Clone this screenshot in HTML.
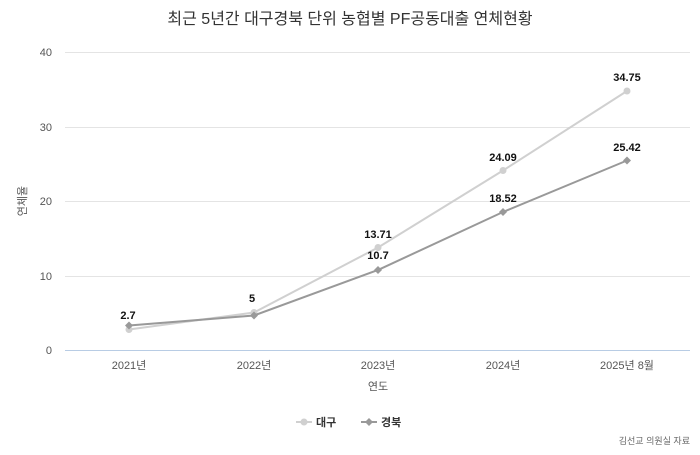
<!DOCTYPE html>
<html><head><meta charset="utf-8"><style>
body{margin:0;background:#fff;}
svg text{font-family:"Liberation Sans","Noto Sans CJK KR",sans-serif;}
</style></head><body>
<svg width="700" height="450" viewBox="0 0 700 450">
<rect width="700" height="450" fill="#fff"/>
<text x="350" y="24" text-anchor="middle" font-size="16" fill="#333">최근 5년간 대구경북 단위 농협별 PF공동대출 연체현황</text>
<g stroke="#e4e4e4" stroke-width="1">
<line x1="65" y1="52.5" x2="690" y2="52.5"/>
<line x1="65" y1="127.5" x2="690" y2="127.5"/>
<line x1="65" y1="201.5" x2="690" y2="201.5"/>
<line x1="65" y1="276.5" x2="690" y2="276.5"/>
</g>
<line x1="65" y1="350.5" x2="690" y2="350.5" stroke="#b8cce4" stroke-width="1"/>
<g font-size="11" fill="#555" text-anchor="end">
<text x="52" y="56">40</text><text x="52" y="131">30</text><text x="52" y="205">20</text><text x="52" y="280">10</text><text x="52" y="354">0</text>
</g>
<text transform="translate(26,201) rotate(-90)" font-size="11" fill="#555" text-anchor="middle">연체율</text>
<g font-size="11" fill="#555" text-anchor="middle">
<text x="129" y="369">2021년</text><text x="254" y="369">2022년</text><text x="378" y="369">2023년</text><text x="503" y="369">2024년</text><text x="627" y="369">2025년 8월</text>
</g>
<text x="378" y="390" font-size="11" fill="#555" text-anchor="middle">연도</text>
<polyline points="129,329.5 254,312.5 378,247.5 503,170.5 627,91" fill="none" stroke="#d0d0d0" stroke-width="2"/>
<g fill="#d0d0d0"><circle cx="129" cy="329.5" r="3.5"/><circle cx="254" cy="312.5" r="3.5"/><circle cx="378" cy="247.5" r="3.5"/><circle cx="503" cy="170.5" r="3.5"/><circle cx="627" cy="91" r="3.5"/></g>
<polyline points="129,325.5 254,315.5 378,270 503,212 627,160.5" fill="none" stroke="#999" stroke-width="2"/>
<g fill="#999">
<path d="M129,321.5l4,4-4,4-4-4z"/><path d="M254,311.5l4,4-4,4-4-4z"/><path d="M378,266l4,4-4,4-4-4z"/><path d="M503,208l4,4-4,4-4-4z"/><path d="M627,156.5l4,4-4,4-4-4z"/>
</g>
<g font-size="11" font-weight="bold" fill="#111" text-anchor="middle">
<text x="128" y="319">2.7</text><text x="252" y="302">5</text>
<text x="378" y="238">13.71</text><text x="378" y="259">10.7</text>
<text x="503" y="161">24.09</text><text x="503" y="202">18.52</text>
<text x="627" y="81">34.75</text><text x="627" y="151">25.42</text>
</g>
<line x1="296" y1="422" x2="312" y2="422" stroke="#d0d0d0" stroke-width="2"/><circle cx="304" cy="422" r="3.5" fill="#d0d0d0"/>
<text x="316" y="426" font-size="11" font-weight="bold" fill="#333">대구</text>
<line x1="361" y1="422" x2="377" y2="422" stroke="#999" stroke-width="2"/><path d="M369,418l4,4-4,4-4-4z" fill="#999"/>
<text x="381" y="426" font-size="11" font-weight="bold" fill="#333">경북</text>
<text x="690" y="444" font-size="9" fill="#666" text-anchor="end">김선교 의원실 자료</text>
</svg>
</body></html>
